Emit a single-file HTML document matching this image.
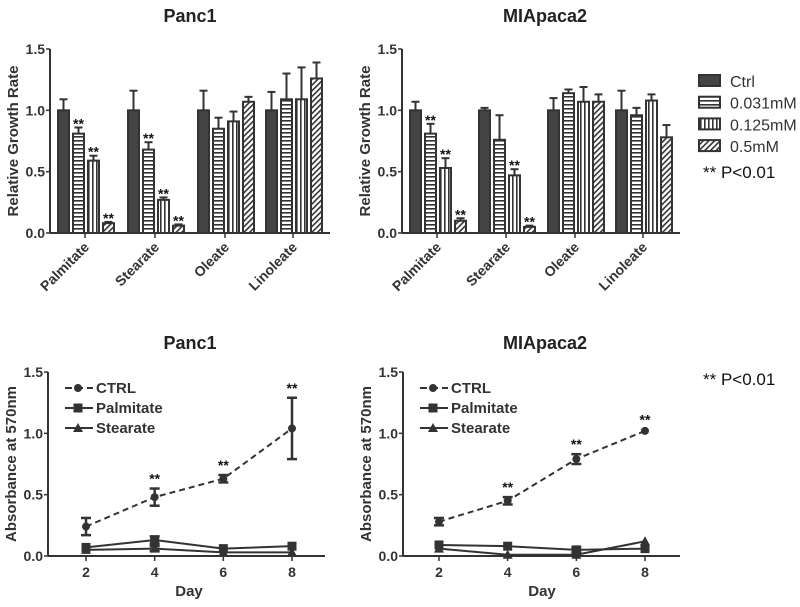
<!DOCTYPE html>
<html><head><meta charset="utf-8"><style>
html,body{margin:0;padding:0;background:#fff;}
svg{display:block;font-family:"Liberation Sans",Arial,sans-serif;}
</style></head><body>
<svg id="c" width="800" height="607" viewBox="0 0 800 607" xmlns="http://www.w3.org/2000/svg">
<defs>
<pattern id="ph" width="4" height="4" patternUnits="userSpaceOnUse"><rect width="4" height="4" fill="#fff"/><rect y="0" width="4" height="1.6" fill="#333"/></pattern>
<pattern id="pv" width="4" height="4" patternUnits="userSpaceOnUse"><rect width="4" height="4" fill="#fff"/><rect x="0" width="1.6" height="4" fill="#333"/></pattern>
<pattern id="pd" width="4" height="4" patternUnits="userSpaceOnUse" patternTransform="rotate(45)"><rect width="4" height="4" fill="#fff"/><rect width="1.6" height="4" fill="#333"/></pattern>
</defs>
</svg>
<script>
const groups = ["Palmitate","Stearate","Oleate","Linoleate"];
const seriesNames = ["Ctrl","0.031mM","0.125mM","0.5mM"];
const yTicks = [0,0.5,1.0,1.5];
const yTickLabels = ["0.0","0.5","1.0","1.5"];
const panc1Vals = [[1.0,0.81,0.59,0.08],[1.0,0.68,0.27,0.06],[1.0,0.85,0.91,1.07],[1.0,1.09,1.09,1.26]];
const panc1Err  = [[0.09,0.05,0.04,0.01],[0.16,0.06,0.02,0.01],[0.16,0.09,0.08,0.04],[0.15,0.21,0.26,0.13]];
const panc1Sig  = [[0,1,1,1],[0,1,1,1],[0,0,0,0],[0,0,0,0]];
const mia2Vals = [[1.0,0.81,0.53,0.10],[1.0,0.76,0.47,0.05],[1.0,1.14,1.07,1.07],[1.0,0.96,1.08,0.78]];
const mia2Err  = [[0.07,0.08,0.08,0.02],[0.02,0.20,0.05,0.01],[0.10,0.03,0.12,0.06],[0.16,0.06,0.05,0.10]];
const mia2Sig  = [[0,1,1,1],[0,0,1,1],[0,0,0,0],[0,0,0,0]];
const days = [2,4,6,8];
const lineNames = ["CTRL","Palmitate","Stearate"];
const p1Ctrl = [0.24,0.48,0.63,1.04], p1CtrlErr=[0.07,0.07,0.03,0.25];
const p1Palm = [0.07,0.13,0.06,0.08], p1PalmErr=[0.01,0.03,0.01,0.01];
const p1Stea = [0.05,0.06,0.03,0.03], p1SteaErr=[0.01,0.02,0.01,0.01];
const p1Sig = [0,1,1,1];
const m2Ctrl = [0.28,0.45,0.79,1.02], m2CtrlErr=[0.03,0.03,0.04,0.01];
const m2Palm = [0.09,0.08,0.05,0.06], m2PalmErr=[0.01,0.01,0.02,0.01];
const m2Stea = [0.06,0.01,0.01,0.12], m2SteaErr=[0.01,0.01,0.01,0.01];
const m2Sig = [0,1,1,1];

const svg=document.getElementById('c');
const NS='http://www.w3.org/2000/svg';
function mk(tag,at,parent){const e=document.createElementNS(NS,tag);for(const k in at)e.setAttribute(k,at[k]);(parent||svg).appendChild(e);return e;}
function txt(s,at,parent){const e=mk('text',at,parent);e.textContent=s;return e;}
const fills=['#444','url(#ph)','url(#pv)','url(#pd)'];

function yAxis(g,x0,yTop,yBot,xEnd,title){
  const ys=v=>yBot-(v/1.5)*(yBot-yTop);
  const a=mk('line',{x1:x0,y1:yTop,x2:x0,y2:yBot,stroke:'#333','stroke-width':2},g);
  
  const b=mk('line',{x1:x0,y1:yBot,x2:xEnd,y2:yBot,stroke:'#333','stroke-width':2},g);
  
  yTicks.forEach((v,i)=>{
    mk('line',{x1:x0-4,y1:ys(v),x2:x0,y2:ys(v),stroke:'#333','stroke-width':1.5},g);
    const t=txt(yTickLabels[i],{x:x0-5,y:ys(v)+5,'text-anchor':'end','font-size':14,'font-weight':'bold',fill:'#333'},g);
    
  });
  const t=txt(title,{x:0,y:0,transform:`translate(${x0-32},${(yTop+yBot)/2}) rotate(-90)`,'text-anchor':'middle','font-size':15,'font-weight':'bold',fill:'#333'},g);
  
  return ys;
}

function barChart(name,x0,xEnd,centers,vals,errs,sig,title,titleX){
  const g=mk('g',{});
  
  const yTop=49,yBot=233;
  const tt=txt(title,{x:titleX,y:22,'text-anchor':'middle','font-size':18,'font-weight':'bold',fill:'#222'},g);
  
  const ys=yAxis(g,x0,yTop,yBot,xEnd,'Relative Growth Rate');
  const offs=[-27,-12,3,18], w=11;
  groups.forEach((gn,gi)=>{
    const c=centers[gi];
    mk('line',{x1:c,y1:yBot,x2:c,y2:yBot+5,stroke:'#333','stroke-width':1.5},g);
    const lb=txt(gn,{x:0,y:0,transform:`translate(${c+5},${yBot+15}) rotate(-45)`,'text-anchor':'end','font-size':14,'font-weight':'bold',fill:'#333'},g);
    
    vals[gi].forEach((v,si)=>{
      const x=c+offs[si], top=ys(v), et=ys(v+errs[gi][si]);
      mk('line',{x1:x+w/2,y1:top,x2:x+w/2,y2:et,stroke:'#333','stroke-width':2},g);
      mk('line',{x1:x+w/2-4,y1:et,x2:x+w/2+4,y2:et,stroke:'#333','stroke-width':2},g);
      const r=mk('rect',{x:x,y:top,width:w,height:yBot-top,fill:fills[si],stroke:'#333','stroke-width':2},g);
      
      if(sig[gi][si]){const s=txt('**',{x:x+w/2,y:et+1,'text-anchor':'middle','font-size':14,'font-weight':'bold',fill:'#111'},g);
        }
    });
  });
}
barChart('panc1-bar-chart',50,330,[85,155,225,293],panc1Vals,panc1Err,panc1Sig,'Panc1',190);
barChart('miapaca2-bar-chart',402,680,[437,506,575,643],mia2Vals,mia2Err,mia2Sig,'MIApaca2',545);

const lg=mk('g',{});

seriesNames.forEach((n,i)=>{
  const y=81+i*21.7;
  mk('rect',{x:699,y:y-6,width:21,height:11,fill:fills[i],stroke:'#333','stroke-width':2},lg);
  const t=txt(n,{x:730,y:y+6,'font-size':16,fill:'#333'},lg);
  
});
const pv1=txt('** P<0.01',{x:703,y:178,'font-size':17,fill:'#111'});


function marker(kind,x,y,g){
  if(kind===0)mk('circle',{cx:x,cy:y,r:4,fill:'#333'},g);
  else if(kind===1)mk('rect',{x:x-4.5,y:y-4.5,width:9,height:9,fill:'#333'},g);
  else mk('polygon',{points:`${x},${y-5} ${x+5},${y+4} ${x-5},${y+4}`,fill:'#333'},g);
}
function lineChart(name,x0,xEnd,dayX,series,errs,sig,title,titleX){
  const g=mk('g',{});
  
  const yTop=372,yBot=556;
  const tt=txt(title,{x:titleX,y:349,'text-anchor':'middle','font-size':18,'font-weight':'bold',fill:'#222'},g);
  
  const ys=yAxis(g,x0,yTop,yBot,xEnd,'Absorbance at 570nm');
  const xs=d=>dayX[0]+(d-days[0])/(days[days.length-1]-days[0])*(dayX[1]-dayX[0]);
  days.forEach(d=>{
    mk('line',{x1:xs(d),y1:yBot,x2:xs(d),y2:yBot+5,stroke:'#333','stroke-width':1.5},g);
    const t=txt(String(d),{x:xs(d),y:yBot+21,'text-anchor':'middle','font-size':14,'font-weight':'bold',fill:'#333'},g);
    
  });
  const xt=txt('Day',{x:(dayX[0]+dayX[1])/2,y:yBot+40,'text-anchor':'middle','font-size':15,'font-weight':'bold',fill:'#333'},g);
  
  series.forEach((vals,si)=>{
    const pts=vals.map((v,i)=>xs(days[i])+','+ys(v)).join(' ');
    const pl=mk('polyline',{points:pts,fill:'none',stroke:'#333','stroke-width':2,'stroke-dasharray':si===0?'6,4':'none'},g);
    
    vals.forEach((v,i)=>{
      const x=xs(days[i]),e=errs[si][i];
      if(e>0.015){mk('line',{x1:x,y1:ys(v-e),x2:x,y2:ys(v+e),stroke:'#333','stroke-width':2.5},g);
        mk('line',{x1:x-5,y1:ys(v-e),x2:x+5,y2:ys(v-e),stroke:'#333','stroke-width':2.5},g);
        mk('line',{x1:x-5,y1:ys(v+e),x2:x+5,y2:ys(v+e),stroke:'#333','stroke-width':2.5},g);}
      marker(si,x,ys(v),g);
      if(si===0&&sig[i]){const s=txt('**',{x:x,y:ys(v+e)-5,'text-anchor':'middle','font-size':14,'font-weight':'bold',fill:'#111'},g);
        }
    });
  });
  lineNames.forEach((n,i)=>{
    const y=388+i*20, lx=x0+17;
    mk('line',{x1:lx,y1:y,x2:lx+28,y2:y,stroke:'#333','stroke-width':2,'stroke-dasharray':i===0?'7,4':'none'},g);
    marker(i,lx+13,y,g);
    const t=txt(n,{x:lx+31,y:y+5,'font-size':15,'font-weight':'bold',fill:'#333'},g);
    
  });
}
lineChart('panc1-line-chart',48,325,[86,292],[p1Ctrl,p1Palm,p1Stea],[p1CtrlErr,p1PalmErr,p1SteaErr],p1Sig,'Panc1',190);
lineChart('miapaca2-line-chart',403,680,[439,645],[m2Ctrl,m2Palm,m2Stea],[m2CtrlErr,m2PalmErr,m2SteaErr],m2Sig,'MIApaca2',545);
const pv2=txt('** P<0.01',{x:703,y:385,'font-size':17,fill:'#111'});

</script>
</body></html>
